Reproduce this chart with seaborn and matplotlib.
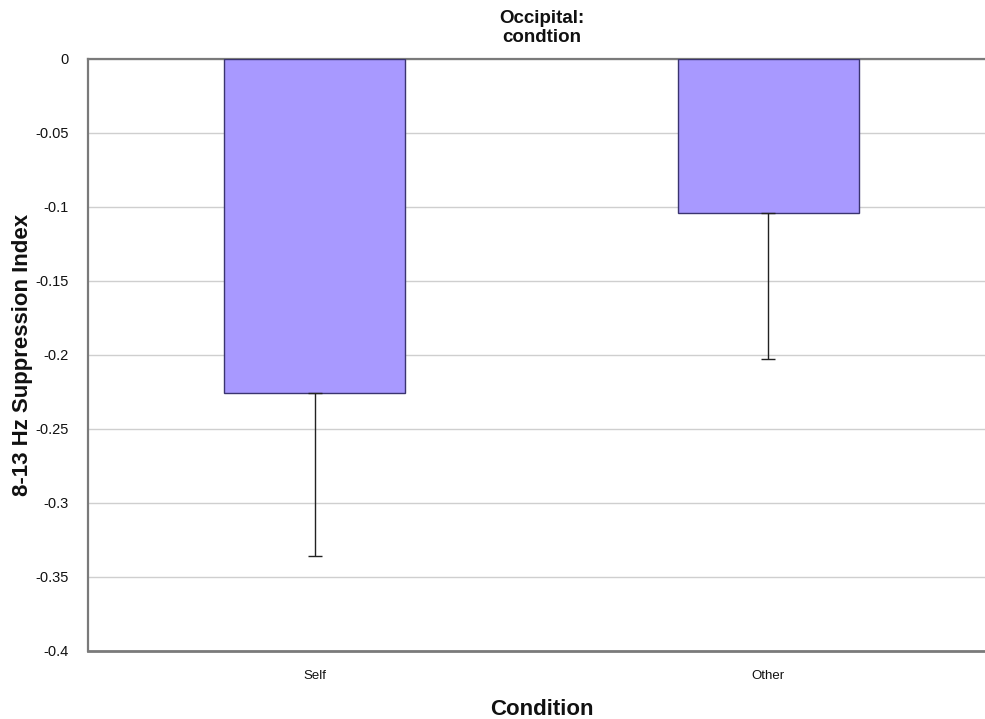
import matplotlib
matplotlib.use("Agg")
import matplotlib.pyplot as plt
import seaborn as sns
import pandas as pd

# Mean 8-13 Hz suppression per condition, with lower error bar lengths
conditions = ["Self", "Other"]
means = [-0.226, -0.104]
errors = [0.110, 0.099]

y_ticks = [0, -0.05, -0.1, -0.15, -0.2, -0.25, -0.3, -0.35, -0.4]
y_tick_labels = ["0", "-0.05", "-0.1", "-0.15", "-0.2", "-0.25", "-0.3", "-0.35", "-0.4"]

title = "Occipital:\ncondtion"
x_label = "Condition"
y_label = "8-13 Hz Suppression Index"

sns.set_theme(style="white")
plt.rcParams["font.family"] = ["Liberation Sans", "DejaVu Sans"]
plt.rcParams["axes.unicode_minus"] = False
plt.rcParams["text.color"] = "#111111"
plt.rcParams["axes.labelcolor"] = "#111111"
plt.rcParams["xtick.color"] = "#111111"
plt.rcParams["ytick.color"] = "#111111"

df = pd.DataFrame({"Condition": conditions, "Index": means})

fig = plt.figure(figsize=(9.85, 7.19), dpi=100)
ax = fig.add_axes([88 / 985, 1 - 651 / 719, 907 / 985, (651 - 59) / 719])

sns.barplot(data=df, x="Condition", y="Index", order=conditions,
            color="#A899FF", saturation=1, width=0.4,
            edgecolor="#3a3470", linewidth=1.0, ax=ax, zorder=3)

# One-sided (downward) error bars
ax.errorbar(range(len(conditions)), means, yerr=[errors, [0] * len(errors)],
            fmt="none", ecolor="#222222", elinewidth=1.0, capsize=5,
            capthick=1.0, zorder=4)

ax.set_ylim(-0.4, 0)
ax.set_xlim(-0.5, 1.5)
ax.set_yticks(y_ticks)
ax.set_yticklabels(y_tick_labels, fontsize=10.5)
ax.tick_params(axis="x", labelsize=9.5, length=0, pad=14)
ax.tick_params(axis="y", length=0, pad=14)

ax.yaxis.grid(True, color="#cfcfcf", linewidth=1.0)
ax.set_axisbelow(True)

for side in ["top", "left", "bottom"]:
    ax.spines[side].set_visible(True)
    ax.spines[side].set_color("#7a7a7a")
ax.spines["top"].set_linewidth(1.6)
ax.spines["left"].set_linewidth(1.6)
ax.spines["bottom"].set_linewidth(2.0)
ax.spines["right"].set_visible(False)

ax.set_xlabel(x_label, fontsize=16, fontweight="bold", labelpad=12)
ax.set_ylabel(y_label, fontsize=16, fontweight="bold")
ax.yaxis.set_label_coords(-0.061, 0.5)
ax.set_title(title, fontsize=13.5, fontweight="bold", pad=12, linespacing=1.15)

fig.savefig("out.png", dpi=100)
